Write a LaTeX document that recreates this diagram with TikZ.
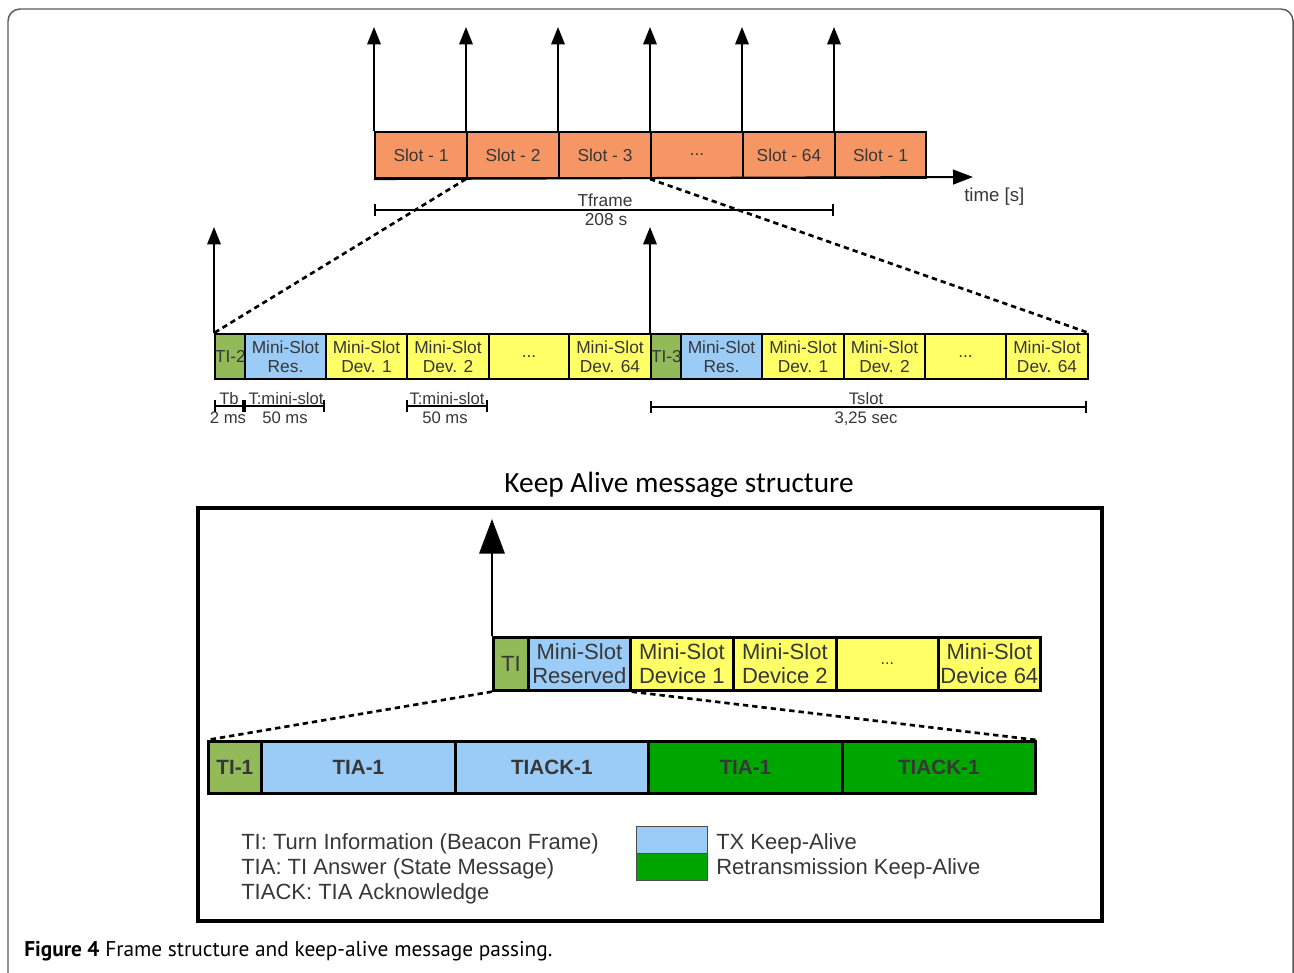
\documentclass[tikz,border=0pt]{standalone}
\usepackage{fontspec}
\setmainfont{Liberation Sans}
\newfontfamily\calibfont{Carlito}
\newfontfamily\capfont{PT Sans}
\usetikzlibrary{arrows.meta}
\definecolor{slotor}{RGB}{246,150,100}
\definecolor{tigreen}{RGB}{146,186,89}
\definecolor{msblue}{RGB}{155,204,248}
\definecolor{msyellow}{RGB}{255,255,102}
\definecolor{rtgreen}{RGB}{0,166,0}
\definecolor{txtgray}{RGB}{55,55,55}
\definecolor{framegray}{RGB}{90,90,90}
\newcommand{\bx}[7]{\node[#1, minimum width={(#5-#3)*0.75pt}, minimum height={(#6-#4)*0.75pt}, anchor=north west] (#2) at (#3,#4) {#7};}
\begin{document}
\begin{tikzpicture}[x=0.75pt, y=-0.75pt,
  cell/.style={draw=black, line width=1.5pt, inner sep=0pt, align=center, text=txtgray},
  slotcell/.style={cell, fill=slotor, font=\fontsize{13}{14}\selectfont},
  minicell/.style={cell, font=\fontsize{13}{14.25}\selectfont},
  kacell/.style={cell, line width=2pt, font=\fontsize{16.5}{18}\selectfont},
  lbcell/.style={cell, line width=2pt, font=\bfseries\fontsize{15.5}{18}\selectfont},
  legcell/.style={draw=black!70, line width=1pt, inner sep=0pt},
  arr/.style={line width=1.6pt, -{Triangle[length=13pt, width=10pt]}},
  bigarr/.style={line width=1.8pt, -{Triangle[length=26pt, width=19pt]}},
  dashline/.style={line width=2pt, dash pattern=on 4pt off 3pt},
  dimline/.style={line width=1.2pt, {Bar[width=9pt]}-{Bar[width=9pt]}},
  dimlbl/.style={inner sep=0pt, anchor=base, text=txtgray, font=\fontsize{12.5}{13}\selectfont},
  legtxt/.style={inner sep=0pt, anchor=base west, text=txtgray, font=\fontsize{16.5}{18}\selectfont}]
\useasboundingbox (0,0) rectangle (1294,972);
\begin{scope}
\clip (0,0) rectangle (1294,972);
\draw[framegray, line width=1.1pt, rounded corners=9pt] (8,1100) -- (8,9) -- (1293,9) -- (1293,1100);
\end{scope}

% ---------- top frame ----------
\bx{slotcell}{s1}{374}{131}{466}{177}{Slot - 1}
\bx{slotcell}{s2}{466}{131}{558}{177}{Slot - 2}
\bx{slotcell}{s3}{558}{131}{650}{177}{Slot - 3}
\bx{slotcell}{s4}{650}{131}{742}{177}{...}
\bx{slotcell}{s5}{742}{131}{834}{177}{Slot - 64}
\bx{slotcell}{s6}{834}{131}{925}{177}{Slot - 1}
\foreach \i/\x in {1/374,2/466,3/558,4/650,5/742,6/834}{
  \coordinate (t\i) at (\x,27);
  \draw[arr] (s\i.north west) -- (t\i);
}
\coordinate (tend) at (973,177);
\draw[line width=1.6pt, -{Triangle[length=15pt, width=11pt]}] (s1.south west) -- (tend);
\node[inner sep=0pt, anchor=base west, text=txtgray, font=\fontsize{14}{16}\selectfont] (timelbl) at (964,201) {time [s]};
\coordinate (tf1) at (374,210);
\coordinate (tf2) at (834,210);
\draw[dimline] (tf1) -- (tf2);
\node[dimlbl, font=\fontsize{13}{14}\selectfont] (tfname) at (605,206) {Tframe};
\node[dimlbl, font=\fontsize{13}{14}\selectfont] (tfval) at (606,225) {208 s};

% ---------- middle slot ----------
\bx{minicell, fill=tigreen}{m1}{214}{333}{244}{378}{TI-2}
\bx{minicell, fill=msblue}{m2}{244}{333}{325}{378}{Mini-Slot\\Res.}
\bx{minicell, fill=msyellow}{m3}{325}{333}{406}{378}{Mini-Slot\\Dev. 1}
\bx{minicell, fill=msyellow}{m4}{406}{333}{488}{378}{Mini-Slot\\Dev. 2}
\bx{minicell, fill=msyellow}{m5}{488}{333}{568}{378}{...}
\bx{minicell, fill=msyellow}{m6}{568}{333}{650}{378}{Mini-Slot\\Dev. 64}
\bx{minicell, fill=tigreen}{m7}{650}{333}{680}{378}{TI-3}
\bx{minicell, fill=msblue}{m8}{680}{333}{761}{378}{Mini-Slot\\Res.}
\bx{minicell, fill=msyellow}{m9}{761}{333}{843}{378}{Mini-Slot\\Dev. 1}
\bx{minicell, fill=msyellow}{m10}{843}{333}{924}{378}{Mini-Slot\\Dev. 2}
\bx{minicell, fill=msyellow}{m11}{924}{333}{1005}{378}{...}
\bx{minicell, fill=msyellow}{m12}{1005}{333}{1087}{378}{Mini-Slot\\Dev. 64}
\coordinate (u1) at (214,227);
\coordinate (u2) at (650,227);
\draw[arr] (m1.north west) -- (u1);
\draw[arr] (m7.north west) -- (u2);
\draw[dashline] (s2.south west) -- (m1.north west);
\draw[dashline] (s4.south west) -- (m12.north east);

\coordinate (d1) at (214,406);
\coordinate (d2) at (244,406);
\coordinate (d3) at (325,406);
\coordinate (d4) at (406,406);
\coordinate (d5) at (488,406);
\coordinate (d6) at (650,407);
\coordinate (d7) at (1087,407);
\draw[dimline] (d1) -- (d2);
\draw[dimline] (d2) -- (d3);
\draw[dimline] (d4) -- (d5);
\draw[dimline] (d6) -- (d7);
\node[dimlbl] (tbn) at (229,404) {Tb};
\node[dimlbl] (tbv) at (228,423) {2 ms};
\node[dimlbl] (msn1) at (286,404) {T:mini-slot};
\node[dimlbl] (msv1) at (285,423) {50 ms};
\node[dimlbl] (msn2) at (447,404) {T:mini-slot};
\node[dimlbl] (msv2) at (445,423) {50 ms};
\node[dimlbl] (tsn) at (866,404) {Tslot};
\node[dimlbl] (tsv) at (866,423) {3,25 sec};

% ---------- keep alive ----------
\node[inner sep=0pt, anchor=base, font=\calibfont\fontsize{22}{26}\selectfont] (title) at (679,492) {Keep Alive message structure};
\draw[line width=3pt] (198,508) rectangle (1102,921);

\bx{kacell, fill=tigreen}{k1}{492}{636}{527}{689}{TI}
\bx{kacell, fill=msblue}{k2}{527}{636}{629}{689}{Mini-Slot\\Reserved}
\bx{kacell, fill=msyellow}{k3}{629}{636}{732}{689}{Mini-Slot\\Device 1}
\bx{kacell, fill=msyellow}{k4}{732}{636}{835}{689}{Mini-Slot\\Device 2}
\bx{kacell, fill=msyellow}{k5}{835}{636}{937}{689}{\fontsize{12}{14}\selectfont ...}
\bx{kacell, fill=msyellow}{k6}{937}{636}{1039}{689}{Mini-Slot\\Device 64}
\coordinate (kt) at (492,519);
\draw[bigarr] (k1.north west) -- (kt);

\bx{lbcell, fill=tigreen}{l1}{207}{740}{260}{792}{TI-1}
\bx{lbcell, fill=msblue}{l2}{260}{740}{454}{792}{TIA-1}
\bx{lbcell, fill=msblue}{l3}{454}{740}{647}{792}{TIACK-1}
\bx{lbcell, fill=rtgreen}{l4}{647}{740}{841}{792}{TIA-1}
\bx{lbcell, fill=rtgreen}{l5}{841}{740}{1034}{792}{TIACK-1}
\draw[dashline] (k1.south west) -- (l1.north west);
\draw[dashline] (k2.south east) -- (l5.north east);

\node[legtxt] (lg1) at (241,849) {TI: Turn Information (Beacon Frame)};
\node[legtxt] (lg2) at (241,874) {TIA: TI Answer (State Message)};
\node[legtxt] (lg3) at (241,899) {TIACK: TIA Acknowledge};
\bx{legcell, fill=msblue}{g1}{636}{826}{707}{853}{}
\bx{legcell, fill=rtgreen}{g2}{636}{853}{707}{880}{}
\node[legtxt] (lg4) at (716,849) {TX Keep-Alive};
\node[legtxt] (lg5) at (716,874) {Retransmission Keep-Alive};

% ---------- caption ----------
\node[inner sep=0pt, anchor=base west, font=\capfont\fontsize{16}{18}\selectfont] (cap) at (24,956) {\textbf{Figure 4} Frame structure and keep-alive message passing.};
\end{tikzpicture}
\end{document}
